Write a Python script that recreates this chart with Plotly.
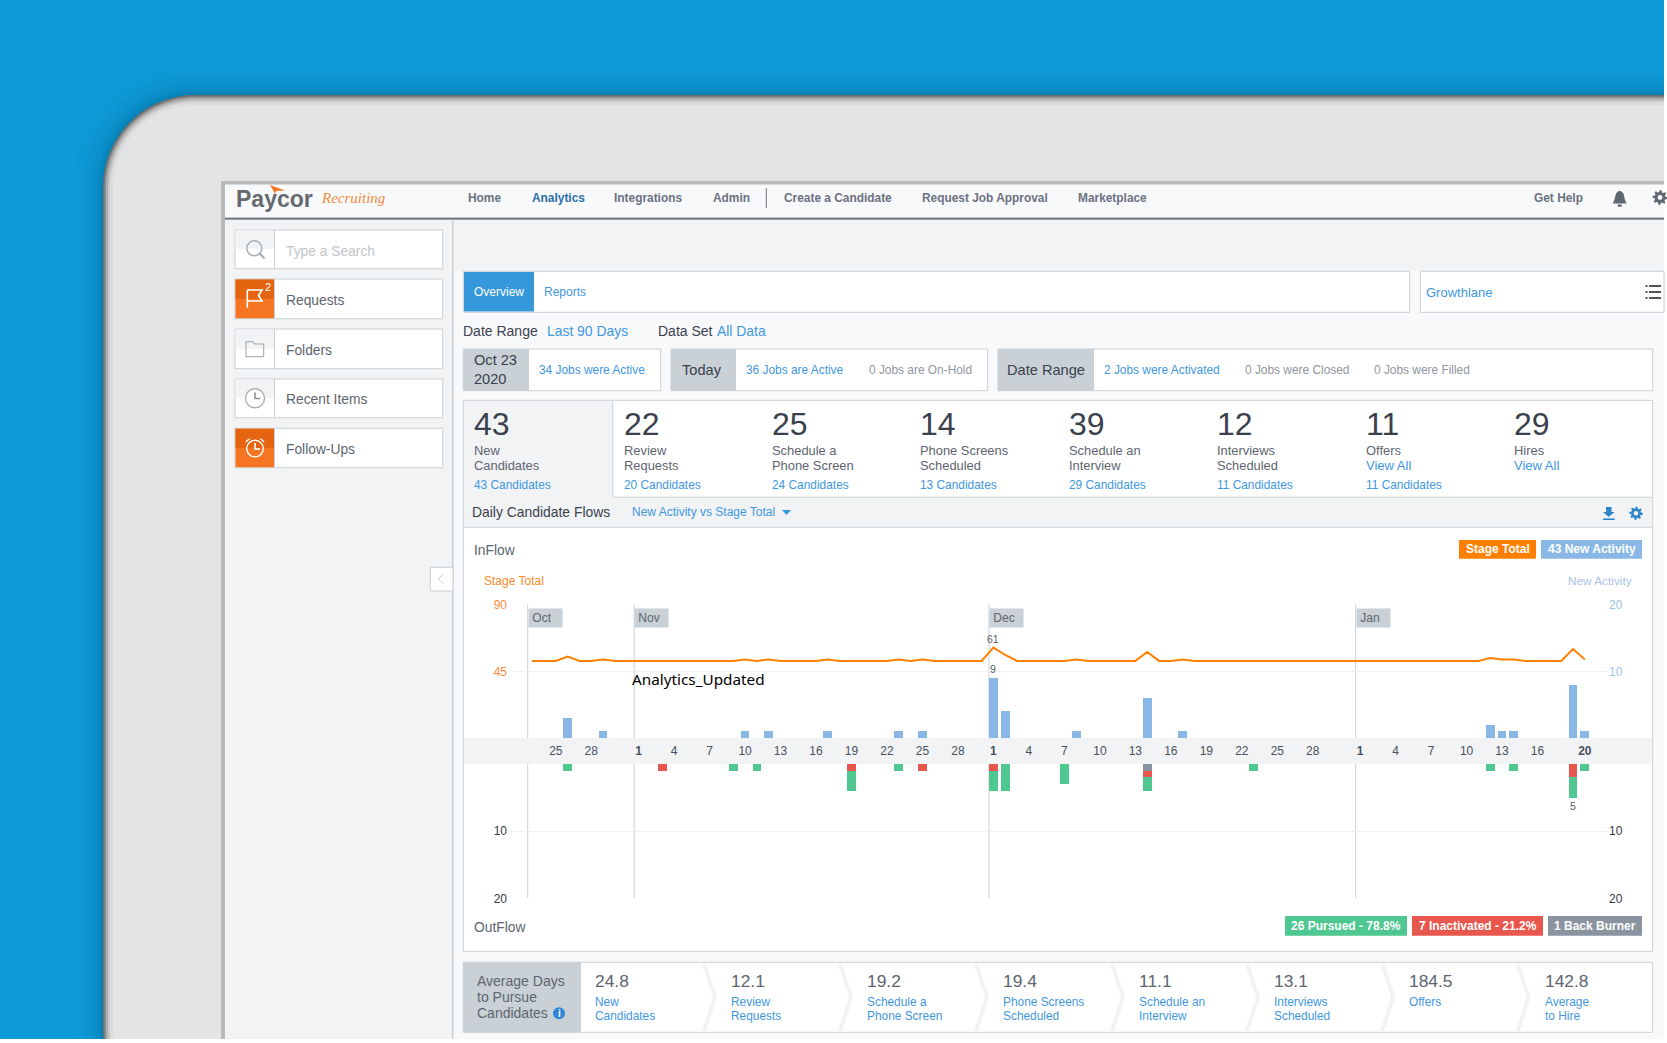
import re
import math
import pandas as pd
import plotly.graph_objects as go

W, H = 1667, 1043

# Daily series, Oct 23 2020 to Jan 20 2021
stage_total = [
    52, 52, 52, 55, 52, 52, 53, 52, 52,
    52, 52, 52, 52, 52, 52, 52, 52, 52, 53, 52, 53, 52, 52, 52, 52, 53, 52, 52, 52,
    52, 52, 53, 52, 53, 52, 52, 52, 52, 52,
    61, 56, 52, 52, 52, 52, 52, 53, 52, 52, 52, 52, 52, 58, 52, 52, 53, 52, 52, 52, 52,
    52, 52, 52, 52, 52, 52, 52, 52, 52, 52,
    52, 52, 52, 52, 52, 52, 52, 52, 52, 52, 52, 54, 53, 53, 52, 52, 52, 52, 60, 53,
]

new_days = ["2020-10-26", "2020-10-29", "2020-11-10", "2020-11-12", "2020-11-17", "2020-11-23",
            "2020-11-25", "2020-12-01", "2020-12-02", "2020-12-08", "2020-12-14", "2020-12-17",
            "2021-01-12", "2021-01-13", "2021-01-14", "2021-01-19", "2021-01-20"]
new_counts = [3, 1, 1, 1, 1, 1, 1, 9, 4, 1, 6, 1, 2, 1, 1, 8, 1]

pursued_days = ["2020-10-26", "2020-11-09", "2020-11-11", "2020-11-19", "2020-11-23", "2020-12-01",
                "2020-12-02", "2020-12-07", "2020-12-14", "2020-12-23", "2021-01-12", "2021-01-14",
                "2021-01-19", "2021-01-20"]
pursued_counts = [1, 1, 1, 3, 1, 3, 4, 3, 2, 1, 1, 1, 3, 1]

inactivated_days = ["2020-11-03", "2020-11-19", "2020-11-25", "2020-12-01", "2020-12-14", "2021-01-19"]
inactivated_counts = [1, 1, 1, 1, 1, 2]

burner_days = ["2020-12-14"]
burner_counts = [1]

tick_days = ["2020-10-25", "2020-10-28",
             "2020-11-01", "2020-11-04", "2020-11-07", "2020-11-10", "2020-11-13", "2020-11-16",
             "2020-11-19", "2020-11-22", "2020-11-25", "2020-11-28",
             "2020-12-01", "2020-12-04", "2020-12-07", "2020-12-10", "2020-12-13", "2020-12-16",
             "2020-12-19", "2020-12-22", "2020-12-25", "2020-12-28",
             "2021-01-01", "2021-01-04", "2021-01-07", "2021-01-10", "2021-01-13", "2021-01-16",
             "2021-01-20"]
tick_labels = ["25", "28", "<b>1</b>", "4", "7", "10", "13", "16", "19", "22", "25", "28",
               "<b>1</b>", "4", "7", "10", "13", "16", "19", "22", "25", "28",
               "<b>1</b>", "4", "7", "10", "13", "16", "<b>20</b>"]

month_starts = ["2020-10-23", "2020-11-01", "2020-12-01", "2021-01-01"]
month_names = ["Oct", "Nov", "Dec", "Jan"]

nav_items = ["Home", "Analytics", "Integrations", "Admin", "Create a Candidate",
             "Request Job Approval", "Marketplace", "Get Help"]
side_items = ["Requests", "Folders", "Recent Items", "Follow-Ups"]

kpi_counts = ["43", "22", "25", "14", "39", "12", "11", "29"]
kpi_labels = [["New", "Candidates"], ["Review", "Requests"], ["Schedule a", "Phone Screen"],
              ["Phone Screens", "Scheduled"], ["Schedule an", "Interview"],
              ["Interviews", "Scheduled"], ["Offers"], ["Hires"]]
kpi_links = ["43 Candidates", "20 Candidates", "24 Candidates", "13 Candidates",
             "29 Candidates", "11 Candidates", "11 Candidates", ""]

avg_days = ["24.8", "12.1", "19.2", "19.4", "11.1", "13.1", "184.5", "142.8"]
avg_labels = [["New", "Candidates"], ["Review", "Requests"], ["Schedule a", "Phone Screen"],
              ["Phone Screens", "Scheduled"], ["Schedule an", "Interview"],
              ["Interviews", "Scheduled"], ["Offers"], ["Average", "to Hire"]]

SANS = "Liberation Sans, Arial, sans-serif"
BLUE = "#3f97e0"
TEXT = "#5d6570"
DARK = "#3a414d"
BORDER = "#c9d0d6"
PALE = "#f1f3f5"
PAGE = "#f8f9fb"
ORANGE = "#ff8000"
BAR_BLUE = "#8ab8e6"
GREEN = "#4fc791"
RED = "#e8574e"
SLATE = "#8a93a0"

shapes = []
notes = []


def rect(x0, y0, x1, y1, fill, line=None, width=1):
    shapes.append(dict(type="rect", xref="paper", yref="paper", layer="below",
                       x0=x0 / W, x1=x1 / W, y0=1 - y0 / H, y1=1 - y1 / H, fillcolor=fill,
                       line=dict(color=line or fill, width=width if line else 0)))


def circle(cx, cy, r, fill="rgba(0,0,0,0)", line=None, width=1):
    shapes.append(dict(type="circle", xref="paper", yref="paper", layer="below",
                       x0=(cx - r) / W, x1=(cx + r) / W, y0=1 - (cy - r) / H, y1=1 - (cy + r) / H,
                       fillcolor=fill, line=dict(color=line or fill, width=width if line else 0)))


def path(d, fill="rgba(0,0,0,0)", line=None, width=1):
    # d is written in screen pixels, converted here to paper fractions
    conv = re.sub(r"(-?[\d.]+)[ ,](-?[\d.]+)",
                  lambda m: f"{float(m[1]) / W:.5f},{1 - float(m[2]) / H:.5f}", d)
    shapes.append(dict(type="path", xref="paper", yref="paper", layer="below", path=conv,
                       fillcolor=fill, line=dict(color=line or "rgba(0,0,0,0)", width=width if line else 0)))


def note(x, y, text, size=12, color=TEXT, anchor="left", family=SANS):
    notes.append(dict(xref="paper", yref="paper", x=x / W, y=1 - y / H, text=text, showarrow=False,
                      xanchor=anchor, yanchor="middle", borderpad=0, borderwidth=0,
                      font=dict(size=size, color=color, family=family)))


def frame_path(i):
    r = 92 - i
    top, left = 95 + i, 103 + i
    return (f"M{left} 1039 L{left} {top + r} C{left} {top + r * 0.45} {left + r * 0.45} {top} "
            f"{left + r} {top} L1664 {top} L1664 1039 Z")


def gear(cx, cy, r, color):
    pts = []
    for k in range(32):
        a = 2 * math.pi * k / 32
        rad = r if (k % 4) in (0, 1) else r * 0.72
        pts.append(f"{cx + rad * math.cos(a):.2f} {cy + rad * math.sin(a):.2f}")
    path("M" + " L".join(pts) + " Z", fill=color)


# device frame and page
rect(0, 0, 1664, 1039, "#0d9bd8")
for inset, alpha in [(-30, 0.025), (-20, 0.04), (-12, 0.05), (-6, 0.06), (-3, 0.07)]:
    path(frame_path(inset), fill=f"rgba(0,50,90,{alpha})")
for inset, col in [(0, "#6f6f6f"), (1.5, "#8f8f8f"), (3, "#aeaeae"), (5, "#c8c8c8"), (7, "#dcdcdc"), (10, "#e3e4e6")]:
    path(frame_path(inset), fill=col)
rect(221, 181, 1664, 1039, "#b9babb")
rect(225, 184.5, 1664, 217.7, PAGE)
rect(225, 217.7, 1664, 219.7, "#6b7280")
rect(225, 219.7, 1664, 1039, PALE)
rect(453.5, 271, 1664, 1039, PAGE)
rect(452, 219.7, 453.5, 1039, BORDER)

# logo
path("M270 185 L285 190.5 L276 191 L275 194 L273 190 Z", fill="#f57522")
note(236, 198.5, "<b>Paycor</b>", size=23, color="#666a70")
note(321, 198, "<i>Recruiting</i>", size=15, color="#f28a3e", family="Liberation Serif, serif")

# header nav
for label, x in zip(nav_items, [468, 532, 614, 713, 784, 921.7, 1077.7, 1534]):
    note(x, 197.7, f"<b>{label}</b>", size=11.9, color="#2a6fa8" if label == "Analytics" else "#6b7280")
rect(765.8, 188, 766.8, 208, "#6b7280")
path("M1612.7 203.5 C1615 200 1615 196 1616 193.5 Q1619.7 188 1623.4 193.5 C1624.4 196 1624.4 200 1626.7 203.5 Z",
     fill="#5f6772")
rect(1617.7, 204.5, 1621.7, 206.7, "#5f6772")
gear(1660, 197.5, 7.5, "#5f6772")
circle(1660, 197.5, 2.4, fill=PAGE)

# sidebar
rect(235, 230, 442.7, 268.7, "#ffffff", BORDER)
rect(235.5, 230.5, 274, 249, PALE)
rect(274, 230, 275, 268.7, BORDER)
circle(254.3, 248.3, 7.5, line="#a9b0b6", width=1.5)
path("M259.5 253.5 L264.5 258.5", line="#a9b0b6", width=2.2)
note(286.3, 251.8, "Type a Search", size=13.8, color="#c2c6ca")

side_boxes = [(279, 318.7), (329, 368.7), (379, 417.7), (428.3, 467.7)]
side_orange = [True, False, False, True]
side_nudge = [1.8, 1.8, 1, 1]
for label, (y0, y1), hot, nudge in zip(side_items, side_boxes, side_orange, side_nudge):
    rect(235, y0, 442.7, y1, "#ffffff", BORDER)
    mid = (y0 + y1) / 2
    if hot:
        rect(235.5, y0 + 0.5, 274, y1 - 0.5, "#f57522")
        rect(235.5, y0 + 0.5, 274, mid, "#e4640f")
    else:
        rect(235.5, y0 + 0.5, 274, mid, PALE)
    rect(274, y0, 275, y1, BORDER)
    note(286.3, mid + nudge, label, size=13.8, color=TEXT)

path("M247.3 290 L262 290 L258.5 295.5 L262 301 L247.3 301 M247.3 290 L247.3 307.7", line="#ffffff", width=1.6)
note(267.7, 287, "2", size=11, color="#ffffff", anchor="center")
path("M246 356.7 L246 341.7 L253 341.7 L254.5 344 L263.7 344 L263.7 356.7 Z", line="#9aa2a8", width=1)
circle(255, 398.3, 9.5, fill="#ffffff", line="#aab0b6", width=1.4)
path("M255 392.5 L255 398.5 L260 398.5", line="#8a9199", width=1.6)
circle(255, 448.6, 8.3, line="#ffffff", width=1.4)
path("M255 443 L255 449 L260 449", line="#ffffff", width=1.6)
path("M245.5 443 Q246 438.5 251 438.5 Z", fill="#ffffff")
path("M264.5 443 Q264 438.5 259 438.5 Z", fill="#ffffff")
rect(430.3, 567.3, 453, 591, "#ffffff", BORDER)
path("M443.5 574 L438.5 579 L443.5 584", line="#c9ced3", width=1)

# tabs
rect(463.3, 271.3, 1409.7, 312.3, "#ffffff", BORDER)
rect(464, 272, 534, 311.6, "#3498db")
note(474, 291.7, "Overview", size=12, color="#ffffff")
note(544.3, 291.7, "Reports", size=12, color=BLUE)
rect(1420.3, 271.3, 1664, 312.3, "#ffffff", BORDER)
note(1426.3, 292.5, "Growthlane", size=13, color=BLUE)
for yy in [286, 292, 298]:
    rect(1645.5, yy - 0.9, 1647.5, yy + 0.9, DARK)
    rect(1649, yy - 0.9, 1661, yy + 0.9, DARK)

note(463.3, 331.2, "Date Range", size=14, color=DARK)
note(547, 331.2, "Last 90 Days", size=13.9, color=BLUE)
note(657.7, 331.2, "Data Set", size=14, color=DARK)
note(717.3, 331.2, "All Data", size=13.9, color=BLUE)

# job summary boxes
rect(463.3, 349, 660.7, 390.7, "#ffffff", BORDER)
rect(463.3, 349, 529, 390.7, BORDER)
note(474.3, 360, "Oct 23", size=14.6, color=DARK)
note(474.3, 379.5, "2020", size=14.6, color=DARK)
note(539, 369.7, "34 Jobs were Active", size=11.9, color=BLUE)
rect(671, 349, 987.7, 390.7, "#ffffff", BORDER)
rect(671, 349, 736, 390.7, BORDER)
note(682.3, 369.7, "Today", size=14.6, color=DARK)
note(746, 369.7, "36 Jobs are Active", size=11.9, color=BLUE)
note(869, 369.7, "0 Jobs are On-Hold", size=11.9, color="#8f969e")
rect(998, 349, 1652.7, 390.7, "#ffffff", BORDER)
rect(998, 349, 1094, 390.7, BORDER)
note(1007.3, 369.7, "Date Range", size=14.6, color=DARK)
note(1104.3, 369.7, "2 Jobs were Activated", size=11.9, color=BLUE)
note(1244.7, 369.7, "0 Jobs were Closed", size=11.9, color="#8f969e")
note(1374, 369.7, "0 Jobs were Filled", size=11.9, color="#8f969e")

# KPI panel and chart panel
rect(463.3, 400.3, 1652.7, 951.3, "#ffffff", BORDER)
rect(464, 401, 612.3, 497.3, PALE)
rect(612.3, 401, 613.3, 497.3, BORDER)
rect(464, 497.3, 1652, 527.3, PALE)
rect(613.3, 496.8, 1652, 497.8, BORDER)
rect(464, 526.8, 1652, 527.8, BORDER)

kpi_x = [474.3, 623.6, 772, 920.3, 1069, 1217.3, 1365.6, 1514.3]
for i, xx in enumerate(kpi_x):
    note(xx, 424.5, kpi_counts[i], size=32, color=DARK)
    for j, line_text in enumerate(kpi_labels[i]):
        note(xx, 450.7 + 14.7 * j, line_text, size=12.9, color=TEXT)
    if i >= 6:
        note(xx, 465.4, "View All", size=13, color=BLUE)
    if kpi_links[i]:
        note(xx, 484.7, kpi_links[i], size=11.9, color=BLUE)

note(472.3, 511.7, "Daily Candidate Flows", size=13.9, color=DARK)
note(632.3, 511.7, "New Activity vs Stage Total", size=12, color=BLUE)
path("M782 510 L791 510 L786.5 515 Z", fill="#3498db")
path("M1606 507 L1611.5 507 L1611.5 512 L1614.5 512 L1608.7 517 L1603 512 L1606 512 Z", fill="#2e86c9")
rect(1603, 518.4, 1614.7, 520, "#2e86c9")
gear(1636, 513.3, 6.8, "#2e86c9")
circle(1636, 513.3, 2.2, fill=PALE)

note(474.3, 550.3, "InFlow", size=13.8, color=TEXT)
note(484.3, 580.7, "Stage Total", size=12, color="#ff8a2a")
note(1632, 580.7, "New Activity", size=11.8, color="#aac2ea", anchor="right")
rect(1459, 540, 1536, 558.7, ORANGE)
note(1497.5, 549.3, "<b>Stage Total</b>", size=12, color="#ffffff", anchor="center")
rect(1541, 540, 1642, 558.7, BAR_BLUE)
note(1591.5, 549.3, "<b>43 New Activity</b>", size=12, color="#ffffff", anchor="center")

note(474.3, 927.7, "OutFlow", size=13.8, color=TEXT)
rect(1285, 916, 1407, 935.7, GREEN)
note(1346, 925.8, "<b>26 Pursued - 78.8%</b>", size=12, color="#ffffff", anchor="center")
rect(1412, 916, 1543, 935.7, RED)
note(1477.5, 925.8, "<b>7 Inactivated - 21.2%</b>", size=12, color="#ffffff", anchor="center")
rect(1548, 916, 1642, 935.7, SLATE)
note(1595, 925.8, "<b>1 Back Burner</b>", size=12, color="#ffffff", anchor="center")

# tick band behind the date axis
rect(464, 738, 1652, 764, PALE)

note(632.4, 678.5, "Analytics_Updated", size=15.3, color="#000000", family="Noto Sans, sans-serif")

# average days strip
rect(463.3, 962.3, 1652.7, 1032.3, "#ffffff", BORDER)
rect(463.3, 962.3, 581, 1032.3, BORDER)
for j, line_text in enumerate(["Average Days", "to Pursue", "Candidates"]):
    note(477, 980.7 + 16 * j, line_text, size=14, color=TEXT)
circle(559, 1013.3, 6, fill="#2e86d9")
note(559, 1013.3, "<b>i</b>", size=10, color="#ffffff", anchor="center")

avg_x = [595.4, 731, 867, 1003, 1139, 1274, 1409.3, 1544.7]
for i, xx in enumerate(avg_x):
    note(xx, 980.5, avg_days[i], size=17.4, color=TEXT)
    for j, line_text in enumerate(avg_labels[i]):
        note(xx, 1001.7 + 14 * j, line_text, size=11.9, color=BLUE)
    if i > 0:
        sx = xx - 27
        path(f"M{sx} 964 L{sx + 11} 997 L{sx} 1031", line=PALE, width=4)

# day marks sit a little after midnight on the date axis
day_pos = lambda days: pd.to_datetime(days) + pd.Timedelta(hours=9)
all_days = pd.date_range("2020-10-23", periods=len(stage_total))
bar_ms = 0.74 * 86400000

fig = go.Figure()
fig.add_trace(go.Scatter(x=day_pos(all_days), y=stage_total, mode="lines", xaxis="x", yaxis="y",
                         line=dict(color=ORANGE, width=2), name="Stage Total"))
fig.add_trace(go.Bar(x=day_pos(new_days), y=new_counts, xaxis="x", yaxis="y2", width=bar_ms,
                     marker=dict(color=BAR_BLUE, line=dict(width=0)), name="New Activity"))
for name, days, counts, color in [("Back Burner", burner_days, burner_counts, SLATE),
                                  ("Inactivated", inactivated_days, inactivated_counts, RED),
                                  ("Pursued", pursued_days, pursued_counts, GREEN)]:
    fig.add_trace(go.Bar(x=day_pos(days), y=counts, xaxis="x2", yaxis="y3", width=bar_ms,
                         marker=dict(color=color, line=dict(width=0)), name=name))
# right hand outflow axis needs a trace of its own to be drawn
fig.add_trace(go.Scatter(x=[None], y=[None], xaxis="x2", yaxis="y4", showlegend=False))

# the three printed peak values
label_font = dict(size=10.5, color="#555b64", family=SANS)
for day, value, xref, yref, anchor, shift in [("2020-12-01", 61, "x", "y", "bottom", 0.5),
                                              ("2020-12-01", 9, "x", "y2", "bottom", 0.5),
                                              ("2021-01-19", 5, "x2", "y3", "top", -0.5)]:
    notes.append(dict(xref=xref, yref=yref, x=day_pos([day])[0], y=value, text=str(value), showarrow=False,
                      xanchor="center", yanchor=anchor, yshift=shift, font=label_font))

# month markers, broken by the tick band
for day in month_starts:
    for yref, top in [("y", 90), ("y3", 20)]:
        shapes.append(dict(type="line", xref="x", yref=yref, x0=day, x1=day, y0=0, y1=top, layer="below",
                           line=dict(color=BORDER, width=1)))
for day, name in zip(month_starts, month_names):
    notes.append(dict(xref="x", yref="paper", x=day, y=1 - 618 / H, text="&nbsp;" + name, showarrow=False,
                      xanchor="left", yanchor="middle", bgcolor=BORDER, width=33, height=18,
                      align="left", borderpad=0, font=dict(size=12, color=TEXT, family=SANS)))

date_range = ["2020-10-21 08:00", "2021-01-22 08:00"]
x_dom = [508 / W, 1608 / W]
up_dom = [1 - 738 / H, 1 - 604.6 / H]
low_dom = [1 - 898.3 / H, 1 - 764 / H]
grid = "#eef0f2"

fig.update_layout(
    width=W, height=H, margin=dict(l=0, r=0, t=0, b=0, pad=0, autoexpand=False), autosize=False,
    paper_bgcolor="#ffffff", plot_bgcolor="rgba(0,0,0,0)",
    showlegend=False, barmode="stack", hovermode=False,
    font=dict(family=SANS, size=12),
    shapes=shapes, annotations=notes,
    xaxis=dict(domain=x_dom, anchor="y", type="date", range=date_range, showgrid=False, zeroline=False,
               showline=False, tickmode="array", tickvals=day_pos(tick_days), ticktext=tick_labels,
               ticks="outside", ticklen=2, tickcolor="rgba(0,0,0,0)", tickangle=0,
               tickfont=dict(size=12, color="#4a515c")),
    xaxis2=dict(domain=x_dom, anchor="y3", type="date", range=date_range, matches="x", showgrid=False,
                zeroline=False, showline=False, showticklabels=False, ticks=""),
    yaxis=dict(domain=up_dom, anchor="x", side="left", range=[0, 90], tickvals=[45, 90], showline=False,
               gridcolor=grid, zeroline=False, tickfont=dict(size=12, color="#ff8a3c")),
    yaxis2=dict(domain=up_dom, anchor="x", side="right", overlaying="y", range=[0, 20], tickvals=[10, 20],
                showgrid=False, zeroline=False, showline=False, tickfont=dict(size=12, color="#9cc2ea")),
    yaxis3=dict(domain=low_dom, anchor="x2", side="left", range=[20, 0], tickvals=[10, 20], showline=False,
                gridcolor=grid, zeroline=False, tickfont=dict(size=12, color="#333a45")),
    yaxis4=dict(domain=low_dom, anchor="x2", side="right", overlaying="y3", range=[20, 0], tickvals=[10, 20],
                showgrid=False, zeroline=False, showline=False, tickfont=dict(size=12, color="#333a45")),
)

fig.write_html("out.html", config=dict(displayModeBar=False),
               post_script="document.body.style.margin='0';document.documentElement.style.overflow='hidden';")
